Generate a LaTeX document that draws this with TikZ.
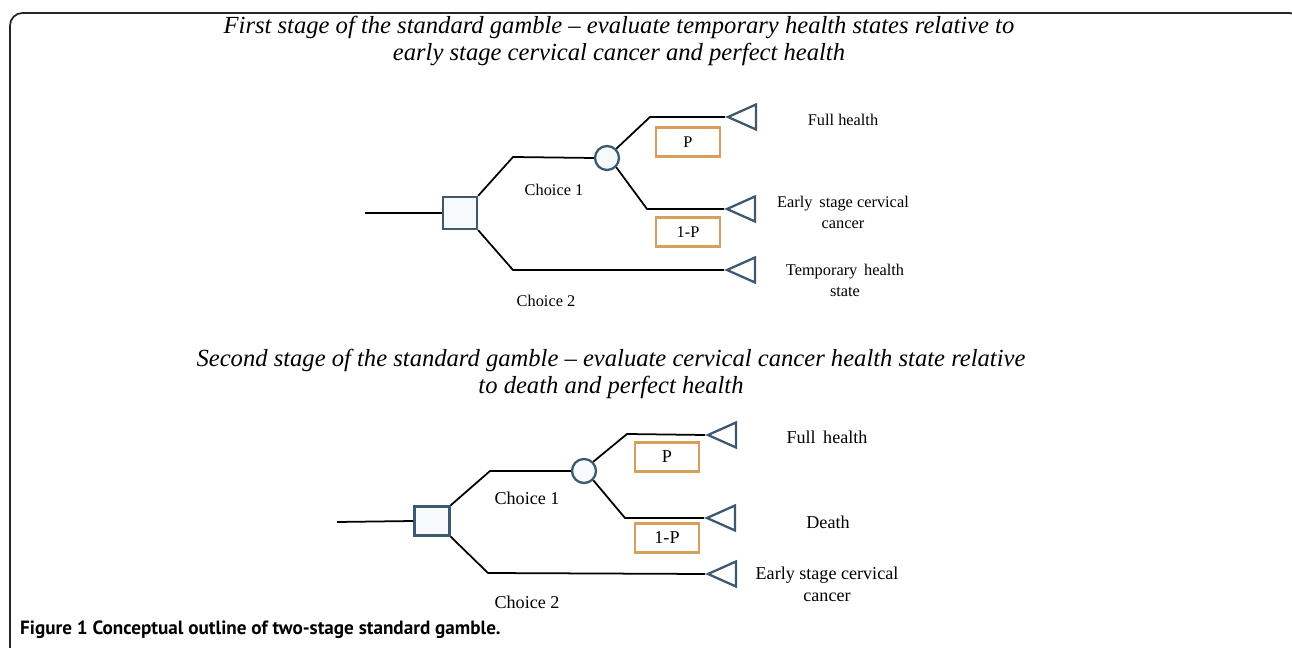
\documentclass[tikz,border=0pt]{standalone}
\usepackage{fontspec}
\setmainfont{Liberation Serif}
\newfontfamily\capfont{PT Sans}
\usepackage{tikz}
\usetikzlibrary{calc}
\usetikzlibrary{shapes.geometric}
\definecolor{nodeline}{RGB}{62,88,112}
\definecolor{nodefill}{RGB}{246,250,252}
\definecolor{probline}{RGB}{216,158,92}
\tikzset{
	% Node styles for the gamble trees: decision, chance, terminal
	decision node/.style={rectangle,draw=nodeline,fill=nodefill,line width=1.3pt,inner sep=0},
	chance node/.style={circle,draw=nodeline,fill=nodefill,line width=1.3pt,inner sep=0,minimum size=0.48cm},
	end node/.style={isosceles triangle,isosceles triangle stretches,shape border rotate=180,draw=nodeline,line width=1.3pt,inner sep=0,minimum width=0.5cm,minimum height=0.56cm,anchor=apex},
	prob box/.style={rectangle,draw=probline,line width=1.5pt,inner sep=0,minimum width=1.28cm,minimum height=0.58cm},
	branch/.style={line width=1pt,black},
	stage title/.style={font=\itshape\fontsize{14}{15}\selectfont,align=center}
}

\begin{document}
\begin{tikzpicture}[x=0.02cm,y=-0.02cm]
			\useasboundingbox (0,0) rectangle (1292,648);
			\draw[line width=1pt,black!85,rounded corners=0.25cm] (10,660) -- (10,13) -- (1302,13) -- (1302,660);
			
			% First stage
			\node(title1)[stage title] at (619,41) {First stage of the standard gamble -- evaluate temporary health states relative to\\early stage cervical cancer and perfect health};
			\begin{scope}[font=\fontsize{9.3}{12}\selectfont]
				\coordinate (s1) at (365,213);
				\node(d1)[decision node,minimum width=0.68cm,minimum height=0.64cm] at (460,213) {};
				\node(c1)[chance node] at (607,158) {};
				\node(t1-1)[end node] at (725,117) {};
				\node(t1-2)[end node] at (724,209) {};
				\node(t1-3)[end node] at (724,270) {};
				\draw[branch] (s1) -- (d1.west);
				\draw[branch] (d1.north east) -- (513,157) -- (c1.west);
				\draw[branch] (d1.south east) -- (513,270) -- (t1-3.apex);
				\draw[branch] (c1.45) -- (650,117) -- (t1-1.apex);
				\draw[branch] (c1.-45) -- (647,209) -- (t1-2.apex);
				\node(p1)[prob box] at (688,142) {P};
				\node(q1)[prob box] at (688,232) {1-P};
				\node(ch1-1) at (554,190) {Choice 1};
				\node(ch1-2) at (546,301) {Choice 2};
				\node(o1-1)[align=center] at (843,120) {Full health};
				\node(o1-2)[align=center] at (843,212) {Early\, stage cervical\\cancer};
				\node(o1-3)[align=center] at (845,280) {Temporary\, health\\state};
			\end{scope}
			
			% Second stage
			\node(title2)[stage title] at (611,374) {Second stage of the standard gamble -- evaluate cervical cancer health state relative\\to death and perfect health};
			\begin{scope}[font=\fontsize{10.3}{12.5}\selectfont]
				\coordinate (s2) at (337,522);
				\node(d2)[decision node,minimum width=0.7cm,minimum height=0.58cm] at (432,521) {};
				\node(c2)[chance node] at (584,471) {};
				\node(t2-1)[end node] at (705,435) {};
				\node(t2-2)[end node] at (704,518) {};
				\node(t2-3)[end node] at (705,574) {};
				\draw[branch] (s2) -- (d2.west);
				\draw[branch] (d2.north east) -- (490,471) -- (c2.west);
				\draw[branch] (d2.south east) -- (488,573) -- (t2-3.apex);
				\draw[branch] (c2.45) -- (627,434) -- (t2-1.apex);
				\draw[branch] (c2.-45) -- (625,518) -- (t2-2.apex);
				\node(p2)[prob box] at (667,457) {P};
				\node(q2)[prob box] at (667,538) {1-P};
				\node(ch2-1) at (527,498) {Choice 1};
				\node(ch2-2) at (527,602) {Choice 2};
				\node(o2-1)[align=center] at (827,437) {Full\, health};
				\node(o2-2)[align=center] at (828,522) {Death};
				\node(o2-3)[align=center] at (827,584) {Early stage cervical\\cancer};
			\end{scope}
			
			% Caption
			\node(cap)[anchor=west,font=\capfont\bfseries\fontsize{10.9}{12}\selectfont] at (14,630) {Figure 1 Conceptual outline of two-stage standard gamble.};
		\end{tikzpicture}
\end{document}
